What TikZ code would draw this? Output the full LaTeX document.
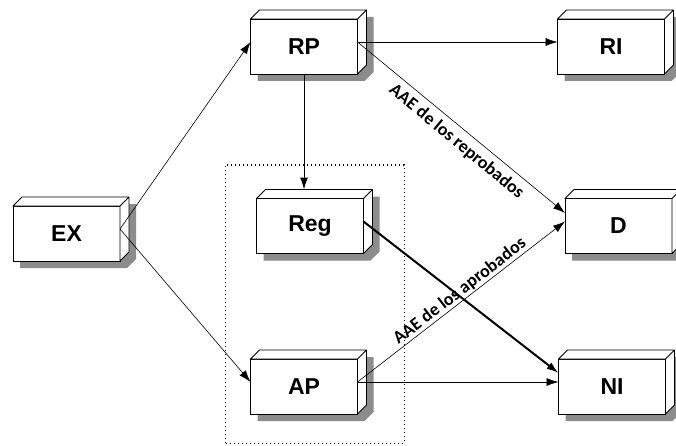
\documentclass[tikz,border=0pt]{standalone}
\usepackage{fontspec}
\setmainfont{Liberation Sans}
\newfontfamily\edgefont{Carlito}
\usepackage{tikz}
\usetikzlibrary{positioning}
\usetikzlibrary{arrows.meta,backgrounds}
\tikzstyle{block} = [rectangle, draw, fill=white, line width=0.8pt, outer sep=0pt,
    minimum width=107pt, minimum height=55pt, font=\fontsize{23}{26}\selectfont\bfseries]
\tikzstyle{boxface} = [draw, fill=white, line width=0.8pt, line join=round]
\tikzstyle{boxshadow} = [fill=black!45]
\tikzstyle{line} = [draw, line width=0.6pt, -{Latex[length=12pt,width=8pt]}]
\tikzstyle{elabel} = [font=\edgefont\fontsize{18}{20}\selectfont\bfseries, sloped, inner sep=1pt]

\begin{document}
\begin{tikzpicture}[x=1pt, y=1pt]
    \useasboundingbox (0,0) rectangle (676,445);
        % Nodes
    \node [block] (ex) at (66.5,211.5) {EX};
    \node [block] (rp) at (304,398.5) {RP};
    \node [block, right = 200pt of rp] (ri) {RI};
    \node [block] (reg) at (310,219) {Reg};
    \node [block] (d) at (618.5,219) {D};
    \node [block] (ap) at (304,58.5) {AP};
    \node [block, right = 201pt of ap] (ni) {NI};
    \coordinate (regtop) at ([yshift=9pt]reg.north);
        % Box sides
    \foreach \n in {ex,rp,ri,reg,d,ap,ni} {
        \draw [boxface] (\n.north west) -- ([shift={(9,9)}]\n.north west)
            -- ([shift={(9,9)}]\n.north east) -- ([shift={(9,9)}]\n.south east)
            -- (\n.south east) -- (\n.north east) -- cycle
            (\n.north east) -- ([shift={(9,9)}]\n.north east);
    }
        % Shadows
    \begin{scope}[on background layer]
    \foreach \n in {ex,rp,ri,reg,d,ap,ni} {
        \fill [boxshadow] ([shift={(7,-7)}]\n.south west) -- ([shift={(7,-7)}]\n.north west)
            -- ([shift={(16,2)}]\n.north west) -- ([shift={(16,2)}]\n.north east)
            -- ([shift={(16,2)}]\n.south east) -- ([shift={(7,-7)}]\n.south east) -- cycle;
    }
    \end{scope}
        % Group
    \draw [line width=1pt, dash pattern=on 1pt off 3pt] (225,2) rectangle (404,280);
        % Edges
    \path [line] ([yshift=4.5pt]ex.east) -- ([yshift=4.5pt]rp.west);
    \path [line] ([yshift=4.5pt]ex.east) -- ([yshift=4.5pt]ap.west);
    \path [line] ([yshift=4.5pt]rp.east) -- ([yshift=4.5pt]ri.west);
    \path [line] ([yshift=4.5pt]rp.east) --node[elabel, below=5pt, pos=0.52] {AAE de los reprobados} ([yshift=13pt]d.west);
    \path [line, line width=1pt] (rp.south) -- (rp.south |- regtop);
    \path [line, line width=2pt] ([yshift=4.5pt]reg.east) -- ([yshift=13.5pt]ni.west);
    \path [line] ([yshift=4.5pt]ap.east) --node[elabel, above, pos=0.52] {AAE de los aprobados} ([yshift=4.5pt]d.west);
    \path [line] ([yshift=4.5pt]ap.east) -- ([yshift=4.5pt]ni.west);
\end{tikzpicture}
\end{document}
